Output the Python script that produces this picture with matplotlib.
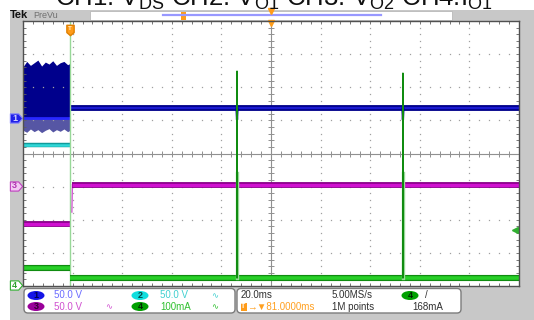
import numpy as np
import matplotlib
matplotlib.use("Agg")
import matplotlib.pyplot as plt
from matplotlib.patches import Rectangle, FancyBboxPatch, Ellipse
from matplotlib.path import Path
from matplotlib.transforms import blended_transform_factory

plt.rcParams['font.family'] = ['Liberation Sans', 'DejaVu Sans']
plt.rcParams['mathtext.fontset'] = 'custom'
plt.rcParams['mathtext.rm'] = 'Liberation Sans'

# time in ms from left screen edge (20 ms/div), levels in divisions
t_end = 200.0
t_switch = 19.0
t_spikes = [86.3, 153.2]

# CH1 V_DS: switching envelope before turn-off, then flat level
ch1_pre_t = [0, 1.5, 3, 4.5, 6, 7.5, 9, 10.5, 12, 13.5, 15, 16.5, 18, 19]
ch1_pre_top = [2.62, 2.78, 2.66, 2.74, 2.82, 2.64, 2.76, 2.70, 2.80, 2.66, 2.74, 2.78, 2.68, 2.72]
ch1_pre_low = [0.70, 0.64, 0.74, 0.66, 0.72, 0.63, 0.70, 0.75, 0.65, 0.72, 0.67, 0.74, 0.66, 0.70]
ch1_zero = 1.07
ch1_post = 1.36
ch1_dip = 1.02

# CH2 V_O1 (only visible before turn-off)
ch2_pre = 0.27

# CH3 V_O2
ch3_pre = -2.14
ch3_edge = -1.77
ch3_post = -0.94

# CH4 I_O1
ch4_pre = -3.47
ch4_post = -3.75
ch4_peaks = [2.49, 2.43]
ch4_peak_base = -0.6

trig_level = -2.31

marker_labels = ['1', '3', '4']
marker_levels = [1.07, -0.98, -3.97]
marker_face = ['#2020e8', '#f2c8f2', '#ffffff']
marker_edge = ['#8080ff', '#c040c0', '#30b030']
marker_text = ['#d0d0ff', '#b030b0', '#30a030']

fig = plt.figure(figsize=(5.34, 3.2), dpi=100, facecolor='white')

# background / frame in pixel coordinates
bg = fig.add_axes([0, 0, 1, 1], zorder=-1)
bg.set_xlim(0, 534)
bg.set_ylim(320, 0)
bg.axis('off')
bg.add_patch(Rectangle((10, 10), 524, 310, fc='#c8c8c8', ec='none'))
bg.add_patch(Rectangle((90, 10.5), 362, 9.5, fc='white', ec='#b8b8b8', lw=0.6))
bg.plot([163, 381], [15, 15], color='#9898ff', lw=1.6)
bg.add_patch(Rectangle((180.5, 11.5), 5, 8, fc='#ff9c1a', ec='none'))
bg.plot([271], [11], marker='v', ms=4, color='#ff9c1a')
bg.text(10, 15.5, 'Tek', fontsize=8, fontweight='bold', va='center', color='#101010')
bg.text(33, 15.5, 'PreVu', fontsize=6.5, va='center', color='#707070', stretch='condensed')

fig.text(55 / 534, 1 - 6 / 320,
         r'CH1: $\mathrm{V_{DS}}$ CH2: $\mathrm{V_{O1}}$ CH3: $\mathrm{V_{O2}}$ CH4:$\mathrm{I_{O1}}$',
         fontsize=18.5, va='baseline', ha='left', color='#101010')

# bottom readout panels
for x0, w in [(24, 211), (237, 224)]:
    bg.add_patch(FancyBboxPatch((x0, 288.5), w, 24.5, boxstyle='round,pad=0,rounding_size=4',
                                fc='white', ec='#7c7c7c', lw=1))

def badge(x, y, label, fc, tc):
    bg.add_patch(Ellipse((x, y), 17, 9, fc=fc, ec='none'))
    bg.text(x, y + 0.3, label, fontsize=6.5, ha='center', va='center', color=tc, fontweight='bold')

r1, r2 = 295.5, 306.5
badge(36, r1, '1', '#1414e6', '#000050')
bg.text(54, r1, '50.0 V', fontsize=7, va='center', color='#6b6bff')
badge(140, r1, '2', '#10dede', '#004848')
bg.text(160, r1, '50.0 V', fontsize=7, va='center', color='#40d0d0')
bg.text(211, r1, '∿', fontsize=6, va='center', color='#40d0d0', family='DejaVu Sans')
badge(36, r2, '3', '#990099', '#300030')
bg.text(54, r2, '50.0 V', fontsize=7, va='center', color='#d050d0')
bg.text(105, r2, '∿', fontsize=6, va='center', color='#d050d0', family='DejaVu Sans')
badge(140, r2, '4', '#00a000', '#002800')
bg.text(160, r2, '100mA', fontsize=7, va='center', color='#30c030')
bg.text(211, r2, '∿', fontsize=6, va='center', color='#30c030', family='DejaVu Sans')

bg.text(241, r1, '20.0ms', fontsize=7, va='center', color='#303030')
bg.text(332, r1, '5.00MS/s', fontsize=7, va='center', color='#303030')
badge(410, r1, '4', '#00a000', '#002800')
bg.text(425, r1, '/', fontsize=7, va='center', color='#303030')
bg.add_patch(Rectangle((240.5, r2 - 4), 6, 8, fc='#ff9c1a', ec='none'))
bg.text(243.5, r2, 'T', fontsize=5, ha='center', va='center', color='white', fontweight='bold')
bg.text(247, r2, '→▼81.0000ms', fontsize=7, va='center', color='#ffa020')
bg.text(332, r2, '1M points', fontsize=7, va='center', color='#303030')
bg.text(412, r2, '168mA', fontsize=7, va='center', color='#303030')

# scope graticule
ax = fig.add_axes([23 / 534, 1 - 286 / 320, 496 / 534, 265 / 320])
ax.set_facecolor('white')
ax.set_xlim(0, t_end)
ax.set_ylim(-4, 4)
ax.set_xticks(np.arange(0, t_end + 0.1, 4))
ax.set_yticks(np.arange(-4, 4.01, 0.2))
ax.tick_params(direction='in', length=2.5, width=0.6, color='#606060',
               top=True, right=True, labelbottom=False, labelleft=False)
for s in ax.spines.values():
    s.set_color('#505050')
    s.set_linewidth(1)

dot_y = np.arange(-4, 4.01, 0.2)
dot_x = np.arange(0, t_end + 0.1, 4)
for gx in np.arange(20, t_end, 20):
    if gx != 100:
        ax.plot(np.full_like(dot_y, gx), dot_y, ls='none', marker='s', ms=0.9, mew=0, color='#a0a0a0')
for gy in range(-3, 4):
    if gy != 0:
        ax.plot(dot_x, np.full_like(dot_x, gy), ls='none', marker='s', ms=0.9, mew=0, color='#a0a0a0')
ax.axhline(0, color='#909090', lw=0.8)
ax.axvline(100, color='#909090', lw=0.8)
ax.plot(dot_x, np.zeros_like(dot_x), ls='none', marker='|', ms=5, mew=0.7, color='#909090')
ax.plot(np.full_like(dot_y, 100), dot_y, ls='none', marker='_', ms=5, mew=0.7, color='#909090')

# CH2 (cyan)
ax.plot([0, t_switch], [ch2_pre, ch2_pre], color='#109a9a', lw=3.2, solid_capstyle='butt')
ax.plot([0, t_switch], [ch2_pre, ch2_pre], color='#30d8d8', lw=1.8, solid_capstyle='butt')

# CH3 (magenta)
t_rise = t_switch + 0.7
ax.plot([t_rise, t_rise + 0.2], [ch3_edge, ch3_post], color='#d040d0', lw=0.9)
for seg_t, lev in [([0, t_switch], ch3_pre), ([t_rise, t_end], ch3_post)]:
    ax.plot(seg_t, [lev, lev], color='#880088', lw=4.2, solid_capstyle='butt')
    ax.plot(seg_t, [lev, lev], color='#d010d0', lw=2.4, solid_capstyle='butt')

# CH1 (blue)
ax.fill_between(ch1_pre_t, ch1_pre_low, ch1_zero, color='#5656a4', lw=0)
ax.fill_between(ch1_pre_t, ch1_zero, ch1_pre_top, color='#00008c', lw=0)
ax.plot([0, t_switch], [ch1_zero, ch1_zero], color='#2828ff', lw=2, solid_capstyle='butt')
ax.plot([t_switch, t_end], [ch1_post, ch1_post], color='#00008a', lw=4.2, solid_capstyle='butt')
ax.plot([t_switch, t_end], [ch1_post, ch1_post], color='#1a1ad0', lw=1.6, solid_capstyle='butt')
for ts in t_spikes:
    ax.plot([ts - 0.2, ts, ts + 0.2], [ch1_post, ch1_dip, ch1_post], color='#00008a', lw=1.6)

# CH4 (green)
ax.plot([t_switch, t_switch], [-4, 4], color='#98d898', lw=1)
for seg_t, lev in [([0, t_switch], ch4_pre), ([t_switch, t_end], ch4_post)]:
    ax.plot(seg_t, [lev, lev], color='#108c10', lw=4.4, solid_capstyle='butt')
    ax.plot(seg_t, [lev, lev], color='#28d028', lw=2.6, solid_capstyle='butt')
for ts, pk in zip(t_spikes, ch4_peaks):
    ax.plot([ts, ts], [ch4_post, ch4_peak_base], color='#98d898', lw=2.4)
    ax.plot([ts - 0.15, ts, ts + 0.15], [ch4_post, pk, ch4_post], color='#108c10', lw=0.9)

# channel ground markers on the left
pent = Path([(-1, -0.75), (0.35, -0.75), (1, 0), (0.35, 0.75), (-1, 0.75), (-1, -0.75)],
            [Path.MOVETO] + [Path.LINETO] * 4 + [Path.CLOSEPOLY])
bl = blended_transform_factory(ax.transAxes, ax.transData)
for lab, lev, fc, ec, tc in zip(marker_labels, marker_levels, marker_face, marker_edge, marker_text):
    ax.plot([-7 / 496], [lev], marker=pent, ms=8.8, mfc=fc, mec=ec, mew=0.8,
            transform=bl, clip_on=False)
    ax.text(-8.5 / 496, lev, lab, transform=bl, fontsize=6.5, ha='center', va='center',
            color=tc, fontweight='bold', clip_on=False)

# trigger position, horizontal position and trigger level
tp = Path([(-0.7, 1), (0.7, 1), (0.7, -0.4), (0, -1), (-0.7, -0.4), (-0.7, 1)],
          [Path.MOVETO] + [Path.LINETO] * 4 + [Path.CLOSEPOLY])
bt = blended_transform_factory(ax.transData, ax.transAxes)
ax.plot([t_switch], [1 - 9 / 265], marker=tp, ms=7.5, mfc='#ff9c1a', mec='#e08000',
        transform=bt, clip_on=False)
ax.text(t_switch, 1 - 8 / 265, 'T', transform=bt, fontsize=4.5, ha='center', va='center',
        color='#fff0d0', fontweight='bold')
ax.plot([100], [1 - 2 / 265], marker='v', ms=5, color='#ff9c1a', transform=bt, clip_on=False)
ax.plot([492 / 496], [trig_level], marker='<', ms=4, color='#30b030', transform=bl, clip_on=False)
ax.plot([492 / 496, 496 / 496], [trig_level, trig_level], color='#30b030', lw=1, transform=bl)

fig.savefig('out.png', dpi=100, facecolor='white')
